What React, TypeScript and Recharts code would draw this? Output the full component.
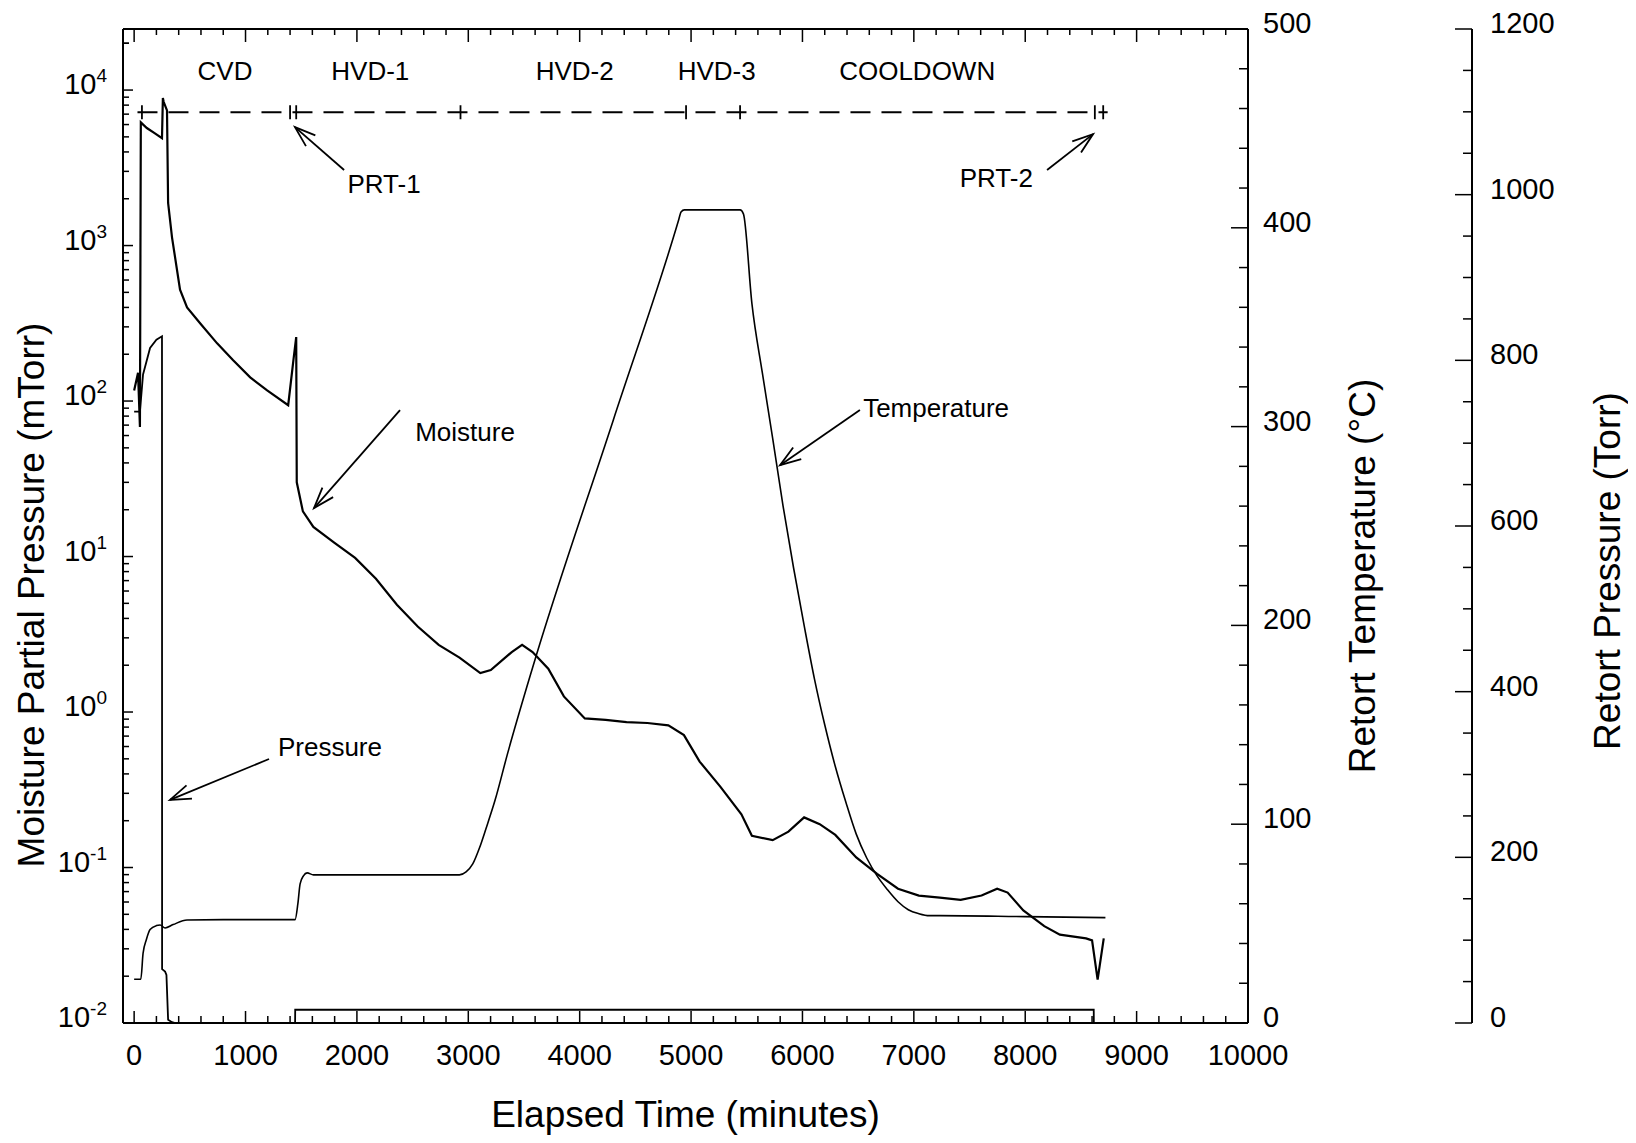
import React from "react";
import {
  ComposedChart,
  XAxis,
  YAxis,
  Line,
  Scatter,
  ReferenceLine,
  ReferenceDot,
} from "recharts";

const FONT = "'Liberation Sans', Arial, Helvetica, sans-serif";

// moisture partial pressure (mTorr) vs elapsed time (min)
const moistureTime = [
  0, 35, 52, 60, 114, 180, 250, 258, 265, 295, 305, 340, 412, 475, 594, 745,
  889, 1042, 1194, 1383, 1430, 1455, 1460, 1515, 1609, 1796, 1984, 2171, 2359,
  2546, 2734, 2921, 3108, 3202, 3390, 3483, 3577, 3718, 3858, 4046, 4233, 4421,
  4608, 4796, 4936, 5077, 5264, 5452, 5546, 5733, 5874, 6015, 6155, 6295, 6483,
  6670, 6858, 7045, 7233, 7420, 7608, 7748, 7842, 7983, 8171, 8311, 8546, 8600,
  8650, 8705,
];
const moistureValue = [
  117, 152, 68, 6200, 5700, 5300, 4900, 8900, 8400, 7400, 1880, 1130, 520, 400,
  315, 235, 183, 142, 117, 94, 183, 258, 30, 19.5, 15.5, 12.3, 9.8, 7.2, 4.9,
  3.55, 2.7, 2.24, 1.78, 1.86, 2.43, 2.7, 2.43, 1.9, 1.26, 0.91, 0.89, 0.86,
  0.85, 0.82, 0.71, 0.48, 0.33, 0.22, 0.16, 0.15, 0.17, 0.21, 0.19, 0.162,
  0.116, 0.091, 0.073, 0.066, 0.064, 0.062, 0.066, 0.073, 0.069, 0.053, 0.042,
  0.037, 0.035, 0.034, 0.019, 0.035,
];

// retort temperature (°C)
const tempTime = [
  0, 60, 80, 110, 143, 200, 233, 278, 350, 475, 800, 1445, 1470, 1490, 1520,
  1553, 1610, 1700, 2920, 2980, 3040, 3100, 3160, 3240, 3350, 3577, 4300, 4889,
  4910, 4940, 5440, 5470, 5546, 5640, 5733, 5826, 5920, 6015, 6108, 6200, 6295,
  6390, 6483, 6577, 6670, 6764, 6858, 6950, 7045, 7140, 7233, 8000, 8720,
];
const tempValue = [
  22, 22, 35, 42, 47, 49, 49.3, 47.8, 49.5, 51.8, 52, 52, 60, 70, 74, 75.5,
  74.5, 74.5, 74.5, 76, 80, 88, 98, 112, 135, 178.7, 303, 404, 408, 409, 409,
  407, 362, 327, 294, 260, 229, 200, 173, 150, 129, 111, 95, 83, 74, 67, 61, 57,
  55, 54, 54, 53.5, 53,
];

// retort pressure (Torr)
const pressureTime = [
  0, 52, 80, 143, 200, 250, 251, 278, 290, 305, 340, 370, 1445, 1446, 8615, 8616,
];
const pressureValue = [738, 738, 783, 815, 825, 829, 65, 62, 58, 4, 1, 0, 0, 16, 16, 0];

// phase timeline
const timelineTime = [30, 8740];
const timelineLevel = 7200;
const phaseMarks = [70, 1400, 1455, 2930, 4955, 5440, 8625, 8700];
const phaseNames = ["CVD", "HVD-1", "HVD-2", "HVD-3", "COOLDOWN"];
const phaseNameTime = [816, 2120, 3955, 5230, 7030];
const phaseNameLevel = 13250;

// annotations: text at (x, y), arrow from -> to
const notes = [
  { text: "PRT-1", x: 2244, y: 2480, from: [1885, 3060], to: [1444, 5780] },
  { text: "PRT-2", x: 7740, y: 2720, from: [8196, 3060], to: [8609, 5210] },
  { text: "Moisture", x: 2971, y: 63, from: [2387, 87.5], to: [1615, 20.5] },
  { text: "Temperature", x: 7200, y: 90, from: [6516, 87.5], to: [5799, 38.7] },
  { text: "Pressure", x: 1758, y: 0.596, from: [1211, 0.499], to: [322, 0.272] },
];

// ticks
const xMajor = [0, 1000, 2000, 3000, 4000, 5000, 6000, 7000, 8000, 9000, 10000];
const xTicks: number[] = [];
for (let t = 0; t <= 10000; t += 200) xTicks.push(t);
const logMajor = [0.01, 0.1, 1, 10, 100, 1000, 10000];
const logTicks: number[] = [];
logMajor.forEach((m) => {
  for (let k = 1; k <= 9; k++) {
    const v = Number((k * m).toPrecision(2));
    if (v <= 24700) logTicks.push(v);
  }
});
logTicks.push(20000);
const tempMajor = [0, 100, 200, 300, 400, 500];
const tempTicks: number[] = [];
for (let t = 0; t <= 500; t += 20) tempTicks.push(t);
const presMajor = [0, 200, 400, 600, 800, 1000, 1200];
const presTicks: number[] = [];
for (let t = 0; t <= 1200; t += 50) presTicks.push(t);

const moistureData = moistureTime.map((t, i) => ({ t, v: moistureValue[i] }));
const tempData = tempTime.map((t, i) => ({ t, v: tempValue[i] }));
const pressureData = pressureTime.map((t, i) => ({ t, v: pressureValue[i] }));
const timelineData = timelineTime.map((t) => ({ t, v: timelineLevel }));
const phaseData = phaseMarks.map((t) => ({ t, v: timelineLevel }));

const BottomTick = ({ x, y, payload }: any) => {
  const major = xMajor.includes(payload.value);
  return (
    <g>
      <line x1={x} x2={x} y1={y} y2={y - (major ? 12 : 7)} stroke="#000" strokeWidth={1.5} />
      {major && (
        <text x={x} y={y + 42} textAnchor="middle" fontSize={29} fontFamily={FONT} fill="#000">
          {payload.value}
        </text>
      )}
    </g>
  );
};

const TopTick = ({ x, y, payload }: any) => {
  const major = xMajor.includes(payload.value);
  return <line x1={x} x2={x} y1={y} y2={y + (major ? 13 : 6)} stroke="#000" strokeWidth={1.5} />;
};

const LogTick = ({ x, y, payload }: any) => {
  const major = logMajor.includes(payload.value);
  const exp = Math.round(Math.log10(payload.value));
  return (
    <g>
      <line x1={x} x2={x + (major ? 10 : 6)} y1={y} y2={y} stroke="#000" strokeWidth={1.5} />
      {major && (
        <text x={x - 16} y={y + 4} textAnchor="end" fontSize={29} fontFamily={FONT} fill="#000">
          <tspan>10</tspan>
          <tspan dy={-12} fontSize={19}>
            {exp}
          </tspan>
        </text>
      )}
    </g>
  );
};

const makeRightTick = (majors: number[], gap: number) => ({ x, y, payload }: any) => {
  const major = majors.includes(payload.value);
  return (
    <g>
      <line x1={x} x2={x - (major ? 17 : 9)} y1={y} y2={y} stroke="#000" strokeWidth={1.5} />
      {major && (
        <text x={x + gap} y={y + 4} textAnchor="start" fontSize={29} fontFamily={FONT} fill="#000">
          {payload.value}
        </text>
      )}
    </g>
  );
};
const TempTick = makeRightTick(tempMajor, 15);
const PresTick = makeRightTick(presMajor, 18);

const vTitle = (text: string, dx: number, dy: number) => (props: any) => {
  const vb = props.viewBox;
  const cx = vb.x + dx;
  const cy = vb.y + vb.height / 2 + dy;
  return (
    <text
      x={cx}
      y={cy}
      transform={`rotate(-90, ${cx}, ${cy})`}
      textAnchor="middle"
      dominantBaseline="central"
      fontSize={37}
      fontFamily={FONT}
      fill="#000"
    >
      {text}
    </text>
  );
};

const xTitle = (props: any) => {
  const vb = props.viewBox;
  return (
    <text
      x={vb.x + vb.width / 2}
      y={vb.y + 104}
      textAnchor="middle"
      fontSize={37}
      fontFamily={FONT}
      fill="#000"
    >
      Elapsed Time (minutes)
    </text>
  );
};

const Arrow = (p: any) => {
  const { x1, y1, x2, y2 } = p;
  const ang = Math.atan2(y2 - y1, x2 - x1);
  const L = 22;
  const a = 0.33;
  const h1x = x2 - L * Math.cos(ang - a);
  const h1y = y2 - L * Math.sin(ang - a);
  const h2x = x2 - L * Math.cos(ang + a);
  const h2y = y2 - L * Math.sin(ang + a);
  return (
    <g stroke="#000" strokeWidth={1.8} fill="none">
      <line x1={x1} y1={y1} x2={x2} y2={y2} />
      <polyline points={`${h1x},${h1y} ${x2},${y2} ${h2x},${h2y}`} />
    </g>
  );
};

const textShape = (text: string) => (p: any) => (
  <text
    x={p.cx}
    y={p.cy}
    textAnchor="middle"
    dominantBaseline="central"
    fontSize={26}
    fontFamily={FONT}
    fill="#000"
  >
    {text}
  </text>
);

const PlusMark = (p: any) => (
  <line x1={p.cx} x2={p.cx} y1={p.cy - 7} y2={p.cy + 7} stroke="#000" strokeWidth={1.8} />
);

const axisLine = { stroke: "#000", strokeWidth: 2 };

export default function App() {
  return (
    <ComposedChart width={1620} height={1130} margin={{ top: 20, right: 0, bottom: 0, left: 0 }}>
      <XAxis
        xAxisId="bottom"
        type="number"
        dataKey="t"
        domain={[-100, 10000]}
        ticks={xTicks}
        interval={0}
        tick={<BottomTick />}
        tickLine={false}
        tickSize={0}
        tickMargin={0}
        axisLine={axisLine}
        height={115}
        allowDataOverflow
        label={xTitle}
      />
      <XAxis
        xAxisId="top"
        orientation="top"
        type="number"
        dataKey="t"
        domain={[-100, 10000]}
        ticks={xTicks}
        interval={0}
        tick={<TopTick />}
        tickLine={false}
        tickSize={0}
        tickMargin={0}
        axisLine={axisLine}
        height={1}
        allowDataOverflow
      />
      <YAxis
        yAxisId="m"
        scale="log"
        domain={[0.01, 24700]}
        ticks={logTicks}
        interval={0}
        tick={<LogTick />}
        tickLine={false}
        tickSize={0}
        tickMargin={0}
        axisLine={axisLine}
        width={115}
        allowDataOverflow
        label={vTitle("Moisture Partial Pressure (mTorr)", 23, 69)}
      />
      <YAxis
        yAxisId="r1"
        orientation="right"
        domain={[0, 500]}
        ticks={tempTicks}
        interval={0}
        tick={<TempTick />}
        tickLine={false}
        tickSize={0}
        tickMargin={0}
        axisLine={axisLine}
        width={224}
        allowDataOverflow
        label={vTitle("Retort Temperature (°C)", 114, 50)}
      />
      <YAxis
        yAxisId="r2"
        orientation="right"
        domain={[0, 1200]}
        ticks={presTicks}
        interval={0}
        tick={<PresTick />}
        tickLine={false}
        tickSize={0}
        tickMargin={0}
        axisLine={axisLine}
        width={156}
        allowDataOverflow
        label={vTitle("Retort Pressure (Torr)", 135, 45)}
      />

      <Line
        xAxisId="bottom"
        yAxisId="m"
        data={timelineData}
        dataKey="v"
        stroke="#000"
        strokeWidth={1.8}
        strokeDasharray="20 11"
        dot={false}
        isAnimationActive={false}
      />
      <Scatter
        xAxisId="bottom"
        yAxisId="m"
        data={phaseData}
        dataKey="v"
        shape={PlusMark}
        isAnimationActive={false}
      />
      <Line
        xAxisId="bottom"
        yAxisId="m"
        data={moistureData}
        dataKey="v"
        type="linear"
        stroke="#000"
        strokeWidth={2.2}
        dot={false}
        isAnimationActive={false}
      />
      <Line
        xAxisId="bottom"
        yAxisId="r1"
        data={tempData}
        dataKey="v"
        type="monotone"
        stroke="#000"
        strokeWidth={1.6}
        dot={false}
        isAnimationActive={false}
      />
      <Line
        xAxisId="bottom"
        yAxisId="r2"
        data={pressureData}
        dataKey="v"
        type="linear"
        stroke="#000"
        strokeWidth={1.8}
        dot={false}
        isAnimationActive={false}
      />

      {phaseNames.map((name, i) => (
        <ReferenceDot
          key={name}
          xAxisId="bottom"
          yAxisId="m"
          x={phaseNameTime[i]}
          y={phaseNameLevel}
          r={0}
          shape={textShape(name)}
        />
      ))}
      {notes.map((n) => (
        <ReferenceDot
          key={n.text}
          xAxisId="bottom"
          yAxisId="m"
          x={n.x}
          y={n.y}
          r={0}
          shape={textShape(n.text)}
        />
      ))}
      {notes.map((n) => (
        <ReferenceLine
          key={n.text + "-arrow"}
          xAxisId="bottom"
          yAxisId="m"
          segment={[
            { x: n.from[0], y: n.from[1] },
            { x: n.to[0], y: n.to[1] },
          ]}
          shape={Arrow}
        />
      ))}
    </ComposedChart>
  );
}
